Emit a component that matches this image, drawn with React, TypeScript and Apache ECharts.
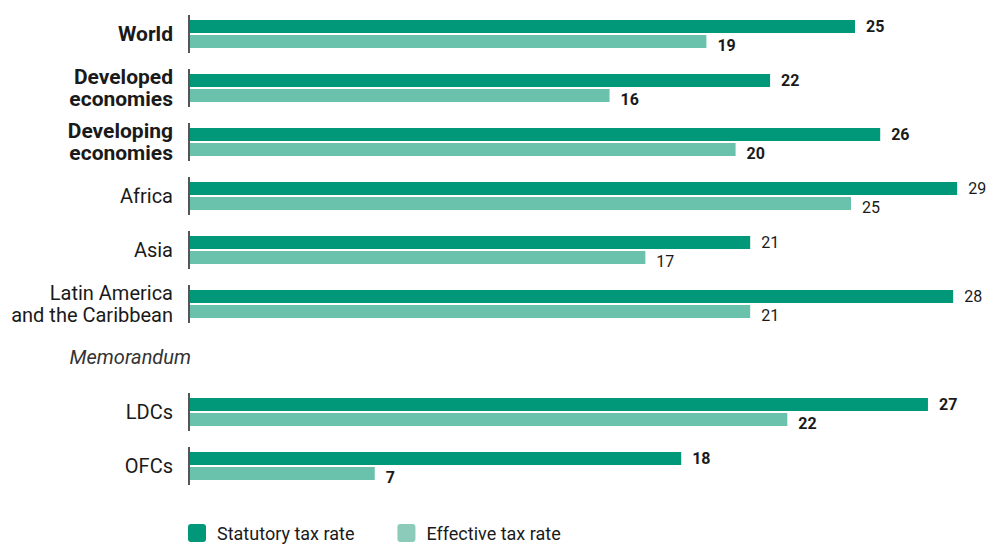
import React, { useEffect, useRef } from "react";
import * as echarts from "echarts";

const categories = [
  "World",
  "Developed\neconomies",
  "Developing\neconomies",
  "Africa",
  "Asia",
  "Latin America\nand the Caribbean",
  "Memorandum",
  "LDCs",
  "OFCs",
];
const boldCategory = [true, true, true, false, false, false, false, false, false];
const boldValue = [true, true, true, false, false, false, false, true, true];
const statutory = [25.1, 21.9, 26.05, 28.95, 21.15, 28.8, null, 27.85, 18.55];
const effective = [19.5, 15.85, 20.6, 24.95, 17.2, 21.15, null, 22.55, 7.0];
const statutoryLabels = ["25", "22", "26", "29", "21", "28", "", "27", "18"];
const effectiveLabels = ["19", "16", "20", "25", "17", "21", "", "22", "7"];
const seriesNames = ["Statutory tax rate", "Effective tax rate"];

const FONT = "Roboto, 'Liberation Sans', Arial, sans-serif";
const C_STAT = "#009878";
const C_EFF = "#6bc2ac";
const C_EFF_LEGEND = "#8ccbb9";

const roundSq =
  "path://M3,0 H15 Q18,0 18,3 V15 Q18,18 15,18 H3 Q0,18 0,15 V3 Q0,0 3,0 Z";

export default function App() {
  const ref = useRef<HTMLDivElement>(null);
  useEffect(() => {
    document.body.style.margin = "0";
    if (!ref.current) return;
    const chart = echarts.init(ref.current, null, { renderer: "svg" });
    const makeData = (vals: (number | null)[], labels: string[]) =>
      vals.map((v, i) => ({
        value: v,
        label: {
          formatter: labels[i],
          fontWeight: boldValue[i] ? "bold" : "normal",
        },
      }));
    const memoIdx = categories.indexOf("Memorandum");
    const option: any = {
      animation: false,
      backgroundColor: "#ffffff",
      textStyle: { fontFamily: FONT },
      grid: { left: 189, top: 7, height: 486, right: 4 },
      legend: {
        left: 188,
        top: 523,
        padding: 0,
        itemWidth: 18,
        itemHeight: 18,
        itemGap: 43,
        icon: roundSq,
        textStyle: {
          fontFamily: FONT,
          fontSize: 18,
          lineHeight: 20,
          color: "#1a1a1a",
          padding: [0, 0, 0, 6],
        },
        data: [
          { name: seriesNames[0], itemStyle: { color: C_STAT } },
          { name: seriesNames[1], itemStyle: { color: C_EFF_LEGEND } },
        ],
      },
      xAxis: {
        type: "value",
        min: 0,
        max: 30,
        show: false,
      },
      yAxis: {
        type: "category",
        data: categories,
        inverse: true,
        axisLine: { show: false },
        axisTick: { show: false },
        axisLabel: {
          margin: 16,
          fontFamily: FONT,
          fontSize: 20,
          lineHeight: 22,
          color: "#1a1a1a",
          formatter: (v: string) => {
            const i = categories.indexOf(v);
            if (i === memoIdx) return "";
            const key = boldCategory[i] ? "b" : "n";
            return v
              .split("\n")
              .map((l) => `{${key}|${l}}`)
              .join("\n");
          },
          rich: {
            b: {
              fontFamily: FONT,
              fontSize: 21,
              lineHeight: 22,
              fontWeight: "bold",
              color: "#1a1a1a",
            },
            n: {
              fontFamily: FONT,
              fontSize: 20,
              lineHeight: 22,
              color: "#1a1a1a",
            },
          },
        },
      },
      series: [
        {
          name: seriesNames[0],
          type: "bar",
          barWidth: 13,
          barGap: "15%",
          itemStyle: { color: C_STAT },
          label: {
            show: true,
            position: "right",
            distance: 11,
            fontFamily: FONT,
            fontSize: 16,
            color: "#1a1a1a",
          },
          data: makeData(statutory, statutoryLabels),
        },
        {
          name: seriesNames[1],
          type: "bar",
          barWidth: 13,
          barGap: "15%",
          itemStyle: { color: C_EFF },
          label: {
            show: true,
            position: "right",
            distance: 11,
            offset: [0, 4],
            fontFamily: FONT,
            fontSize: 16,
            color: "#1a1a1a",
          },
          data: makeData(effective, effectiveLabels),
        },
        {
          type: "custom",
          name: "axisSegments",
          silent: true,
          renderItem: (params: any, api: any) => {
            const p = api.coord([0, api.value(1)]);
            return {
              type: "line",
              shape: { x1: p[0], y1: p[1] - 19, x2: p[0], y2: p[1] + 19 },
              style: { stroke: "#555555", lineWidth: 2 },
            };
          },
          data: categories
            .map((c, i) => [0, i])
            .filter((d) => d[1] !== memoIdx),
          z: 5,
        },
      ],
    };
    chart.setOption(option);
    const memoY = chart.convertToPixel({ yAxisIndex: 0 }, "Memorandum") as number;
    chart.setOption({
      graphic: [
        {
          type: "text",
          right: 989 - 191,
          top: memoY - 11,
          style: {
            text: "Memorandum",
            fontFamily: FONT,
            fontSize: 20,
            fontStyle: "italic",
            fill: "#333333",
          },
        },
      ],
    });
    return () => chart.dispose();
  }, []);
  return <div ref={ref} style={{ width: 989, height: 547 }} />;
}
